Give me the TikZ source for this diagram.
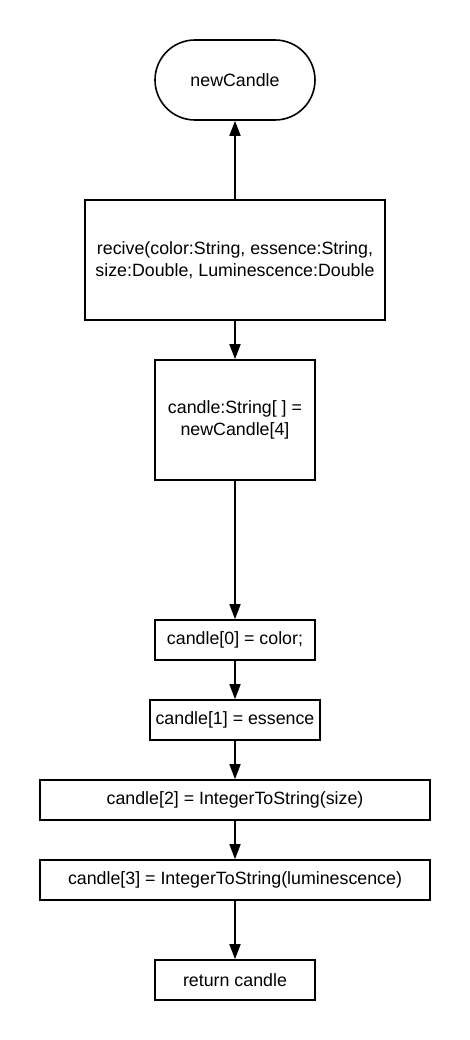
\documentclass[tikz,border=0pt]{standalone}
\usepackage{fontspec}
\setmainfont{Liberation Sans}
\usetikzlibrary{arrows.meta,shapes.misc}

\begin{document}
\begin{tikzpicture}[x=1pt,y=1pt,line width=1.6pt,>={Triangle[length=15pt,width=11pt]},
  font=\fontsize{17.8}{21.7}\selectfont,
  box/.style={draw,rectangle,inner sep=0pt,align=center},
  term/.style={draw,rounded rectangle,inner sep=0pt,align=center}]
\useasboundingbox (0,0) rectangle (470,-1040);
% ---------- start ----------
\node[term,minimum width=160,minimum height=80] (start) at (235,-80) {newCandle};
% ---------- boxes ----------
\node[box,minimum width=300,minimum height=120] (recive) at (235,-260)
  {recive(color:String, essence:String,\\size:Double, Luminescence:Double};
\node[box,minimum width=160,minimum height=120] (decl) at (235,-420)
  {candle:String[ ] =\\newCandle[4]};
\node[box,minimum width=160,minimum height=40] (c0) at (235,-640) {candle[0] = color;};
\node[box,minimum width=170,minimum height=40] (c1) at (235,-720) {candle[1] = essence};
\node[box,minimum width=390,minimum height=40] (c2) at (235,-800) {candle[2] = IntegerToString(size)};
\node[box,minimum width=390,minimum height=40] (c3) at (235,-880) {candle[3] = IntegerToString(luminescence)};
\node[box,minimum width=160,minimum height=40] (ret) at (235,-980) {return candle};
% ---------- arrows ----------
\draw[->] (recive) -- (start);
\draw[->] (recive) -- (decl);
\draw[->] (decl) -- (c0);
\draw[->] (c0) -- (c1);
\draw[->] (c1) -- (c2);
\draw[->] (c2) -- (c3);
\draw[->] (c3) -- (ret);
\end{tikzpicture}
\end{document}
